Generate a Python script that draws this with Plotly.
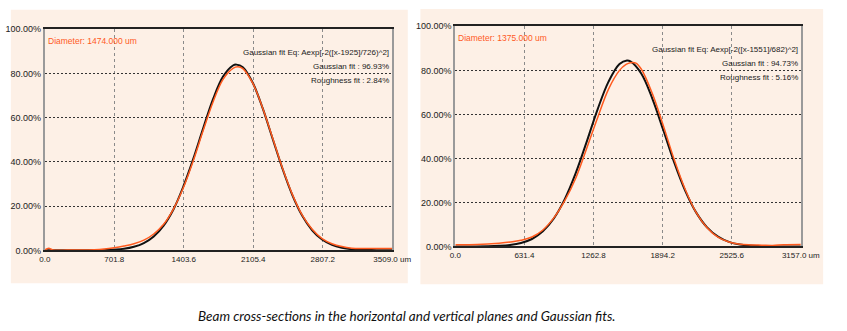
import plotly.graph_objects as go

# ---------------- data ----------------
# Horizontal plane (left panel)
h_fit_x = [0, 300, 600, 800, 900, 1000, 1100, 1200, 1300, 1400, 1500, 1600, 1700, 1800, 1900, 1935,
           2000, 2100, 2200, 2300, 2400, 2500, 2600, 2700, 2800, 2900, 3000, 3100, 3200, 3350, 3509]
h_fit_y = [0.0, 0.0, 0.1, 0.7, 1.6, 3.3, 6.3, 11.2, 18.6, 29.0, 41.5, 55.3, 68.5, 78.6, 83.6, 84.0,
           82.8, 75.8, 64.3, 50.6, 37.0, 25.0, 15.6, 9.1, 4.9, 2.5, 1.2, 0.5, 0.2, 0.1, 0.0]

h_meas_x = [0, 40, 80, 300, 500, 600, 700, 800, 900, 1000, 1100, 1200, 1300, 1400, 1500, 1600, 1700,
            1800, 1900, 1950, 2000, 2100, 2200, 2300, 2400, 2500, 2600, 2700, 2800, 2900, 3000, 3100,
            3200, 3300, 3400, 3509]
h_meas_y = [0.2, 1.0, 0.2, 0.2, 0.3, 0.6, 1.2, 2.0, 3.0, 4.6, 7.4, 11.8, 18.8, 28.4, 40.6, 54.3, 67.2,
            77.3, 82.3, 83.0, 82.2, 75.6, 64.4, 50.9, 37.2, 25.3, 15.9, 9.5, 5.3, 3.0, 1.7, 1.0,
            0.8, 0.8, 0.8, 0.8]

# Vertical plane (right panel)
v_fit_x = [0, 300, 400, 500, 600, 700, 800, 900, 1000, 1100, 1200, 1300, 1400, 1500, 1568, 1600, 1700,
           1800, 1900, 2000, 2100, 2200, 2300, 2400, 2500, 2600, 2700, 2800, 2950, 3157]
v_fit_y = [0.0, 0.1, 0.3, 0.7, 1.6, 3.4, 6.9, 12.7, 21.5, 33.3, 47.5, 62.3, 74.9, 82.9, 84.5, 84.1, 78.5,
           67.2, 52.9, 38.2, 25.4, 15.5, 8.7, 4.5, 2.1, 0.9, 0.4, 0.1, 0.0, 0.0]

v_meas_x = [0, 200, 400, 500, 600, 700, 800, 900, 1000, 1100, 1200, 1300, 1400, 1500, 1560, 1600, 1650,
            1700, 1800, 1900, 2000, 2100, 2200, 2300, 2400, 2500, 2600, 2700, 2800, 2900, 3000, 3157]
v_meas_y = [0.8, 0.9, 1.5, 2.0, 2.8, 4.3, 7.5, 13.0, 20.8, 31.0, 44.5, 58.5, 71.5, 80.0, 82.7, 83.5, 83.3,
            80.5, 69.5, 55.0, 39.5, 26.0, 15.5, 8.5, 4.2, 2.0, 1.0, 0.7, 0.6, 0.5, 0.8, 0.9]

y_ticks = [0, 20, 40, 60, 80, 100]
y_labels = ["0.00%", "20.00%", "40.00%", "60.00%", "80.00%", "100.00%"]
h_xticks = [0.0, 701.8, 1403.6, 2105.4, 2807.2, 3509.0]
h_xlabels = ["0.0", "701.8", "1403.6", "2105.4", "2807.2", "3509.0 um"]
v_xticks = [0.0, 631.4, 1262.8, 1894.2, 2525.6, 3157.0]
v_xlabels = ["0.0", "631.4", "1262.8", "1894.2", "2525.6", "3157.0 um"]

h_diam = "Diameter: 1474.000 um"
v_diam = "Diameter: 1375.000 um"
h_info = ["Gaussian fit Eq: Aexp[-2([x-1925]/726)^2]", "Gaussian fit : 96.93%", "Roughness fit : 2.84%"]
v_info = ["Gaussian fit Eq: Aexp[-2([x-1551]/682)^2]", "Gaussian fit : 94.73%", "Roughness fit : 5.16%"]
caption = "Beam cross-sections in the horizontal and vertical planes and Gaussian fits."

# ---------------- styling ----------------
W, H = 847, 331
BG = "#fdf0e6"
BLACK = "#111111"
ORANGE = "#ff5a1e"
NARROW = "Liberation Sans Narrow, Arial Narrow, Liberation Sans, sans-serif"

fig = go.Figure()

fig.add_trace(go.Scatter(x=h_fit_x, y=h_fit_y, mode="lines", line=dict(color=BLACK, width=2, shape="spline"),
                         xaxis="x", yaxis="y", showlegend=False))
fig.add_trace(go.Scatter(x=h_meas_x, y=h_meas_y, mode="lines", line=dict(color=ORANGE, width=1.5, shape="spline"),
                         xaxis="x", yaxis="y", showlegend=False))
fig.add_trace(go.Scatter(x=v_fit_x, y=v_fit_y, mode="lines", line=dict(color=BLACK, width=2, shape="spline"),
                         xaxis="x2", yaxis="y2", showlegend=False))
fig.add_trace(go.Scatter(x=v_meas_x, y=v_meas_y, mode="lines", line=dict(color=ORANGE, width=1.5, shape="spline"),
                         xaxis="x2", yaxis="y2", showlegend=False))


def px(x):
    return x / W


def py(y):
    return (H - y) / H


# panel backgrounds
shapes = [
    dict(type="rect", xref="paper", yref="paper", x0=px(5), x1=px(414), y0=py(287), y1=py(5),
         fillcolor=BG, line=dict(width=0), layer="below"),
    dict(type="rect", xref="paper", yref="paper", x0=px(427), x1=px(842), y0=py(288), y1=py(4),
         fillcolor=BG, line=dict(width=0), layer="below"),
]

xfont = dict(family=NARROW, size=8, color="#222222")
yfont = dict(family=NARROW, size=9, color="#222222")


def xaxis(dom, rng, tv, tt, anchor):
    return dict(domain=dom, range=rng, tickvals=tv, ticktext=tt, showgrid=True, gridcolor="#8a8a8a",
                griddash="3px,3px", gridwidth=1, zeroline=False, showline=True, linecolor="#222222",
                linewidth=1.5, mirror=True, ticks="", tickfont=xfont, anchor=anchor, fixedrange=True)


def yaxis(dom, anchor):
    return dict(domain=dom, range=[0, 100], tickvals=y_ticks, ticktext=y_labels, showgrid=True,
                gridcolor="#333333", griddash="2px,2px", gridwidth=1, zeroline=False, showline=True,
                linecolor="#9a9a9a", linewidth=2, mirror=True, ticks="", tickfont=yfont,
                anchor=anchor, fixedrange=True)


annotations = []


def add_texts(xa, ya, diam, info, height_px, width_px):
    annotations.append(dict(text=diam, xref=xa + " domain", yref=ya + " domain", x=0.003, y=1 - 12 / height_px,
                            xanchor="left", yanchor="middle", showarrow=False,
                            font=dict(family=NARROW, size=8.5, color=ORANGE)))
    for i, t in enumerate(info):
        annotations.append(dict(text=t, xref=xa + " domain", yref=ya + " domain", x=1 - 1 / width_px,
                                y=1 - (24 + 14.5 * i) / height_px, xanchor="right", yanchor="middle",
                                showarrow=False, font=dict(family=NARROW, size=8, color="#222222")))


add_texts("x", "y", h_diam, h_info, 228, 358)
add_texts("x2", "y2", v_diam, v_info, 227, 356)

annotations.append(dict(text="<i>" + caption + "</i>", xref="paper", yref="paper", x=px(413), y=py(321),
                        xanchor="center", yanchor="middle", showarrow=False,
                        font=dict(family="Lato, Noto Sans, sans-serif", size=13.5, color="#111111")))

fig.update_layout(
    width=W, height=H, margin=dict(l=0, r=0, t=0, b=0),
    paper_bgcolor="white", plot_bgcolor=BG,
    xaxis=xaxis([px(40), px(398)], [0, 3509], h_xticks, h_xlabels, "y"),
    yaxis=yaxis([py(253), py(25)], "x"),
    xaxis2=xaxis([px(463), px(819)], [0, 3157], v_xticks, v_xlabels, "y2"),
    yaxis2=yaxis([py(249), py(22)], "x2"),
    shapes=shapes, annotations=annotations, showlegend=False,
)

fig.write_html("out.html")
